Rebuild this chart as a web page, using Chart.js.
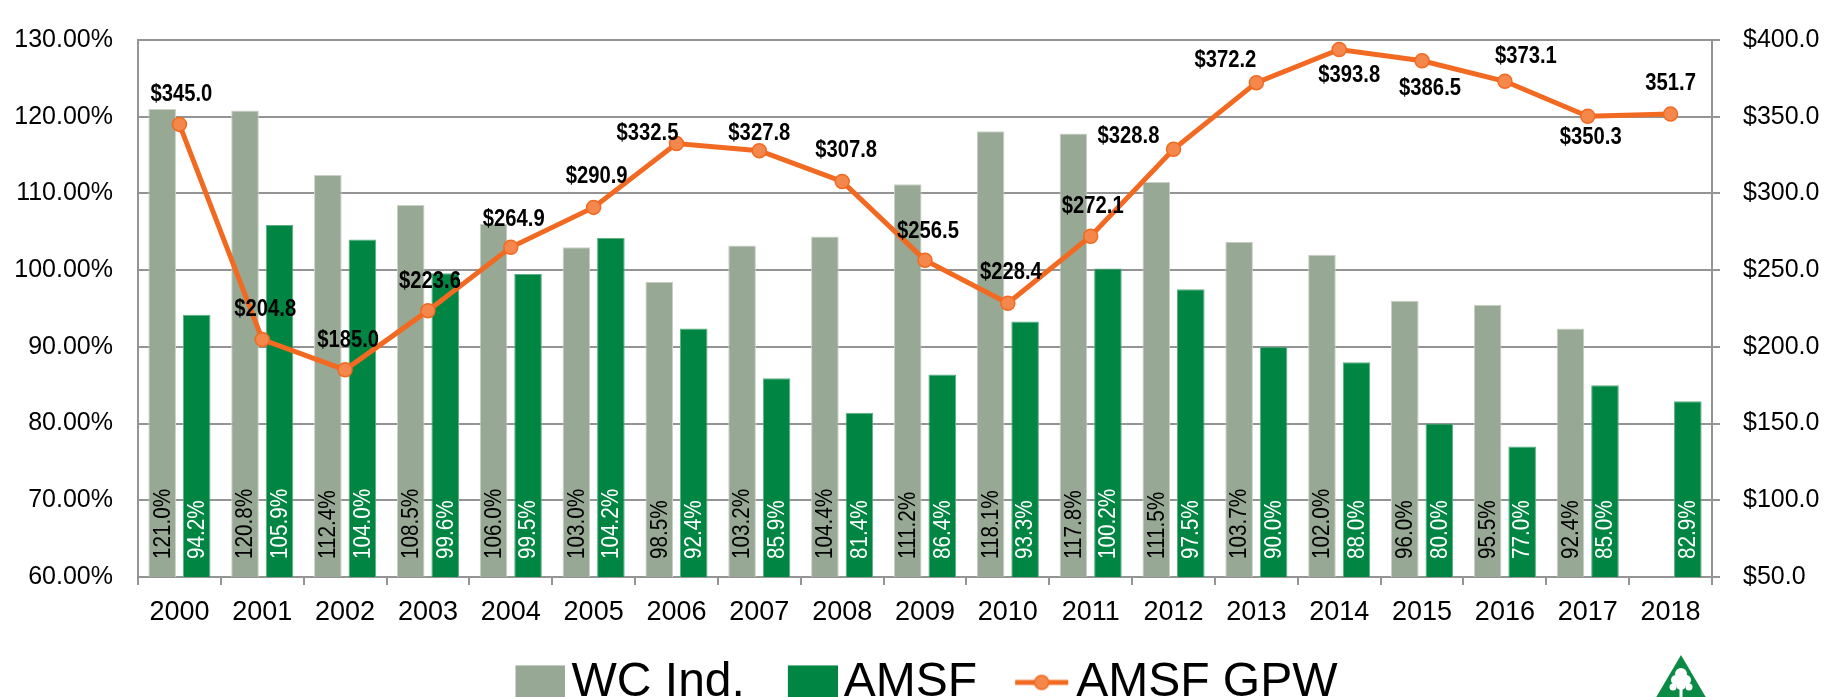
<!DOCTYPE html>
<html>
<head>
<meta charset="utf-8">
<script src="https://cdn.jsdelivr.net/npm/chart.js@4.4.0/dist/chart.umd.min.js"></script>
<style>
    html, body { margin: 0; padding: 0; background: #ffffff; }
    #wrap { width: 1829px; height: 697px; }
</style>
</head>
<body>
<div id="wrap"><canvas id="chart" width="1829" height="697"></canvas></div>
<script>
const years = ['2000', '2001', '2002', '2003', '2004', '2005', '2006', '2007', '2008', '2009',
               '2010', '2011', '2012', '2013', '2014', '2015', '2016', '2017', '2018'];

// loss ratios, %
const wcInd = [121.0, 120.8, 112.4, 108.5, 106.0, 103.0, 98.5, 103.2, 104.4, 111.2,
               118.1, 117.8, 111.5, 103.7, 102.0, 96.0, 95.5, 92.4, null];
const amsf = [94.2, 105.9, 104.0, 99.6, 99.5, 104.2, 92.4, 85.9, 81.4, 86.4,
              93.3, 100.2, 97.5, 90.0, 88.0, 80.0, 77.0, 85.0, 82.9];

// gross premiums written, $M
const amsfGpw = [345.0, 204.8, 185.0, 223.6, 264.9, 290.9, 332.5, 327.8, 307.8, 256.5,
                 228.4, 272.1, 328.8, 372.2, 393.8, 386.5, 373.1, 350.3, 351.7];
const gpwText = ['$345.0', '$204.8', '$185.0', '$223.6', '$264.9', '$290.9', '$332.5', '$327.8', '$307.8', '$256.5',
                 '$228.4', '$272.1', '$328.8', '$372.2', '$393.8', '$386.5', '$373.1', '$350.3', '351.7'];

const legendNames = ['WC Ind.', 'AMSF', 'AMSF GPW'];

const
    FONT = "'Liberation Sans', Arial, sans-serif",
    GREY_BAR = '#97a894',
    GREEN_BAR = '#008542',
    ORANGE = '#f26a21',
    ORANGE_DOT = '#f4874b',
    GRID = '#949494';

// where each GPW label sits relative to its point (dx, dy)
const gpwLabelShift = [
    [2, -30], [3, -30], [3, -29], [2, -29], [3, -28], [3, -31], [-29, -10], [0, -17], [4, -31], [3, -29],
    [3, -31], [2, -30], [-45, -13], [-31, -22], [10, 26], [8, 28], [21, -25], [3, 21], [0, -30]
];

Chart.defaults.font.family = FONT;
Chart.defaults.color = '#000000';

function legendSwatch(kind, color) {
    const cv = document.createElement('canvas');
    cv.width = 92;
    cv.height = 36;
    const g = cv.getContext('2d');
    if (kind === 'bar') {
        g.fillStyle = color;
        g.fillRect(42, 1, 50, 34);
    } else {
        g.strokeStyle = ORANGE;
        g.lineWidth = 5;
        g.beginPath();
        g.moveTo(37, 18);
        g.lineTo(90, 18);
        g.stroke();
        g.beginPath();
        g.arc(63.5, 18, 7, 0, Math.PI * 2);
        g.fillStyle = ORANGE_DOT;
        g.fill();
        g.lineWidth = 1.5;
        g.stroke();
    }
    return cv;
}

const swatches = [
    legendSwatch('bar', GREY_BAR),
    legendSwatch('bar', GREEN_BAR),
    legendSwatch('line')
];

// text in the source is a little condensed, so squeeze it along the baseline
function condensedText(ctx, text, x, y, squeeze, angle) {
    ctx.save();
    ctx.translate(x, y);
    ctx.rotate(angle || 0);
    ctx.scale(squeeze, 1);
    ctx.fillText(text, 0, 0);
    ctx.restore();
}

const barValueLabels = {
    id: 'barValueLabels',
    afterDatasetsDraw(chart) {
        const { ctx, scales: { y } } = chart;
        ctx.save();
        ctx.font = '23px ' + FONT;
        ctx.textAlign = 'left';
        ctx.textBaseline = 'middle';
        [0, 1].forEach(di => {
            const meta = chart.getDatasetMeta(di);
            const values = chart.data.datasets[di].data;
            ctx.fillStyle = di === 0 ? '#000000' : '#ffffff';
            meta.data.forEach((bar, i) => {
                if (values[i] === null) {
                    return;
                }
                condensedText(ctx, values[i].toFixed(1) + '%', bar.x + 1, y.bottom - 18, 0.9, -Math.PI / 2);
            });
        });
        ctx.restore();
    }
};

const gpwLabels = {
    id: 'gpwLabels',
    afterDatasetsDraw(chart) {
        const { ctx } = chart;
        const meta = chart.getDatasetMeta(2);
        ctx.save();
        ctx.font = 'bold 23px ' + FONT;
        ctx.textAlign = 'center';
        ctx.textBaseline = 'middle';
        ctx.fillStyle = '#000000';
        meta.data.forEach((pt, i) => {
            const [dx, dy] = gpwLabelShift[i];
            condensedText(ctx, gpwText[i], pt.x + dx, pt.y + dy, 0.88);
        });
        ctx.restore();
    }
};

// small green triangle logo, bottom right
const logo = {
    id: 'logo',
    afterDraw(chart) {
        const { ctx } = chart;
        ctx.save();
        ctx.fillStyle = '#0b8a45';
        ctx.beginPath();
        ctx.moveTo(1681, 655);
        ctx.lineTo(1711, 706);
        ctx.lineTo(1651, 706);
        ctx.closePath();
        ctx.fill();
        ctx.fillStyle = '#ffffff';
        [[1681, 674, 6], [1676, 680, 5], [1686, 680, 5], [1681, 685, 5], [1673, 687, 3.5], [1689, 687, 3.5]]
            .forEach(([cx, cy, r]) => {
                ctx.beginPath();
                ctx.arc(cx, cy, r, 0, Math.PI * 2);
                ctx.fill();
            });
        ctx.fillRect(1679.5, 688, 3, 9);
        ctx.restore();
    }
};

new Chart(document.getElementById('chart').getContext('2d'), {
    type: 'bar',
    plugins: [barValueLabels, gpwLabels, logo],
    data: {
        labels: years,
        datasets: [{
            label: legendNames[0],
            data: wcInd,
            backgroundColor: GREY_BAR,
            borderColor: '#c9d1c6',
            borderWidth: 1,
            yAxisID: 'y',
            order: 2
        }, {
            label: legendNames[1],
            data: amsf,
            backgroundColor: GREEN_BAR,
            borderColor: '#5fae84',
            borderWidth: 1,
            yAxisID: 'y',
            order: 2
        }, {
            type: 'line',
            label: legendNames[2],
            data: amsfGpw,
            borderColor: ORANGE,
            borderWidth: 5,
            pointRadius: 7,
            pointBackgroundColor: ORANGE_DOT,
            pointBorderColor: ORANGE,
            pointBorderWidth: 1.5,
            tension: 0,
            yAxisID: 'y1',
            order: 1
        }]
    },
    options: {
        responsive: false,
        animation: false,
        layout: {
            padding: { left: 0, right: 0, top: 22, bottom: -19.4 }
        },
        datasets: {
            bar: {
                barPercentage: 0.8,
                categoryPercentage: 0.833
            }
        },
        plugins: {
            tooltip: { enabled: false },
            legend: {
                position: 'bottom',
                labels: {
                    usePointStyle: true,
                    pointStyleWidth: 56,
                    padding: 19,
                    color: '#000000',
                    font: { size: 48 },
                    sort: (a, b) => a.datasetIndex - b.datasetIndex,
                    generateLabels(chart) {
                        const items = Chart.defaults.plugins.legend.labels.generateLabels(chart);
                        items.forEach(it => { it.pointStyle = swatches[it.datasetIndex]; });
                        return items;
                    }
                }
            }
        },
        scales: {
            x: {
                grid: {
                    drawOnChartArea: false,
                    drawTicks: true,
                    tickLength: 8,
                    color: GRID,
                    lineWidth: 2
                },
                border: { display: true, color: GRID, width: 2 },
                ticks: {
                    font: { size: 27 },
                    padding: 11,
                    maxRotation: 0,
                    autoSkip: false
                }
            },
            y: {
                position: 'left',
                min: 60,
                max: 130,
                afterFit(scale) { scale.width = 138; },
                grid: {
                    drawTicks: false,
                    color: GRID,
                    lineWidth: 2
                },
                border: { display: true, color: GRID, width: 2 },
                ticks: {
                    stepSize: 10,
                    padding: 25,
                    font: { size: 25 },
                    callback: v => v.toFixed(2) + '%'
                }
            },
            y1: {
                position: 'right',
                min: 50,
                max: 400,
                afterFit(scale) { scale.width = 117; },
                grid: {
                    drawOnChartArea: false,
                    drawTicks: true,
                    tickLength: 8,
                    color: GRID,
                    lineWidth: 2
                },
                border: { display: true, color: GRID, width: 2 },
                ticks: {
                    stepSize: 50,
                    padding: 23,
                    font: { size: 25 },
                    callback: v => '$' + v.toFixed(1)
                }
            }
        }
    }
});
</script>
</body>
</html>
